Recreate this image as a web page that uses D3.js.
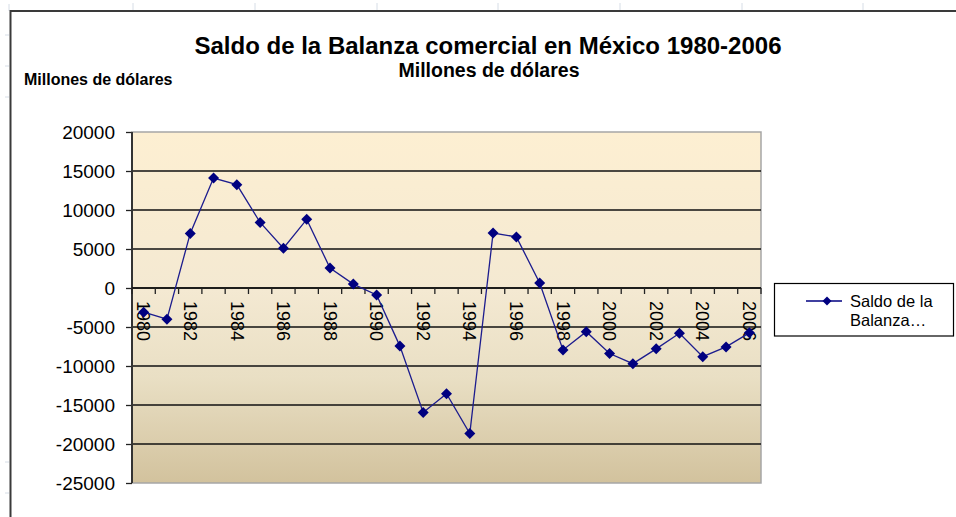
<!DOCTYPE html>
<html>
<head>
<meta charset="utf-8">
<script src="https://cdn.jsdelivr.net/npm/d3@7/dist/d3.min.js"></script>
<style>
  html, body { margin: 0; padding: 0; background: #ffffff; }
  svg { display: block; font-family: "Liberation Sans", Arial, sans-serif; }
</style>
</head>
<body>
<svg id="chart" width="956" height="517"></svg>
<script>
// ---- data ----
const years = [1980,1981,1982,1983,1984,1985,1986,1987,1988,1989,1990,1991,1992,1993,
               1994,1995,1996,1997,1998,1999,2000,2001,2002,2003,2004,2005,2006];
const saldo = [-3100,-4000,7000,14100,13250,8400,5100,8800,2550,500,-900,-7450,-15950,-13550,
               -18650,7050,6550,650,-7950,-5600,-8400,-9700,-7800,-5800,-8800,-7550,-5750];
const yTicks = [20000,15000,10000,5000,0,-5000,-10000,-15000,-20000,-25000];
const xLabels = [1980,1982,1984,1986,1988,1990,1992,1994,1996,1998,2000,2002,2004,2006];
const seriesName = "Saldo de la Balanza comercial";
const titleText = "Saldo de la Balanza comercial en México 1980-2006";
const subtitleText = "Millones de dólares";
const yTitleText = "Millones de dólares";

const svg = d3.select("#chart");
const plot = {left: 132, right: 761, top: 132, bottom: 483};

// faint spreadsheet cell grid marks visible outside the chart frame
const sheetCols = [133,255,377,498,620,742,863];
const sheetRows = [35,66,97,462,493];
svg.selectAll("line.colmark").data(sheetCols).join("line")
  .attr("x1", d => d).attr("x2", d => d).attr("y1", 3).attr("y2", 10)
  .attr("stroke", "#d6dde6").attr("stroke-width", 1);
svg.selectAll("line.rowmark").data(sheetRows).join("line")
  .attr("x1", 5).attr("x2", 9).attr("y1", d => d).attr("y2", d => d)
  .attr("stroke", "#d6dde6").attr("stroke-width", 1);
svg.append("line").attr("x1", 9).attr("x2", 9).attr("y1", 4).attr("y2", 11)
  .attr("stroke", "#d6dde6");

// chart frame (top and left edges visible)
svg.append("path")
  .attr("d", "M10.5,517 L10.5,11 L956,11")
  .attr("fill", "none").attr("stroke", "#3a3a3a").attr("stroke-width", 2);

// gradient background
const defs = svg.append("defs");
const grad = defs.append("linearGradient").attr("id", "bg")
  .attr("x1", 0).attr("y1", 0).attr("x2", 0).attr("y2", 1);
grad.append("stop").attr("offset", "0%").attr("stop-color", "#fdefd2");
grad.append("stop").attr("offset", "45%").attr("stop-color", "#f4e9d2");
grad.append("stop").attr("offset", "70%").attr("stop-color", "#e9dfc4");
grad.append("stop").attr("offset", "100%").attr("stop-color", "#d2c29d");

const x = d3.scaleBand().domain(years).range([plot.left, plot.right]).paddingInner(0).paddingOuter(0);
const y = d3.scaleLinear().domain([-25000, 20000]).range([plot.bottom, plot.top]);
const cx = d => x(d) + x.bandwidth() / 2;

svg.append("rect")
  .attr("x", plot.left).attr("y", plot.top)
  .attr("width", plot.right - plot.left).attr("height", plot.bottom - plot.top)
  .attr("fill", "url(#bg)")
  .attr("stroke", "#a6a6a6").attr("stroke-width", 1.5);

// horizontal gridlines
svg.selectAll("line.grid").data(yTicks.filter(v => v !== 20000 && v !== -25000)).join("line")
  .attr("class", "grid")
  .attr("x1", plot.left).attr("x2", plot.right)
  .attr("y1", d => y(d)).attr("y2", d => y(d))
  .attr("stroke", "#111111").attr("stroke-width", 1.4);

// y axis
const yAxis = d3.axisLeft(y).tickValues(yTicks).tickSize(6).tickPadding(11)
  .tickFormat(d => String(d));
const gy = svg.append("g").attr("transform", `translate(${plot.left},0)`).call(yAxis);
gy.select(".domain").remove();
gy.selectAll(".tick line").attr("stroke", "#222").attr("stroke-width", 1.3);
gy.selectAll(".tick text").attr("font-size", 19).attr("fill", "#000")
  .attr("font-family", "'Liberation Sans', Arial, sans-serif");
svg.append("line").attr("x1", plot.left).attr("x2", plot.left)
  .attr("y1", plot.top).attr("y2", plot.bottom)
  .attr("stroke", "#333").attr("stroke-width", 2);

// x axis at zero
const y0 = y(0);
svg.append("line").attr("x1", plot.left).attr("x2", plot.right)
  .attr("y1", y0).attr("y2", y0).attr("stroke", "#111").attr("stroke-width", 1.6);
const boundaries = years.map(d => x(d)).concat([x(years[years.length - 1]) + x.bandwidth()]);
svg.selectAll("line.xtick").data(boundaries).join("line")
  .attr("x1", d => d).attr("x2", d => d)
  .attr("y1", y0).attr("y2", y0 + 6)
  .attr("stroke", "#222").attr("stroke-width", 1.3);
svg.selectAll("text.xlab").data(xLabels).join("text")
  .attr("class", "xlab")
  .attr("transform", d => `translate(${cx(d)},${y0 + 13}) rotate(90)`)
  .attr("text-anchor", "start")
  .attr("dy", "0.35em")
  .attr("font-size", 18)
  .attr("fill", "#000")
  .text(d => d);

// series line
const line = d3.line().x((d, i) => cx(years[i])).y(d => y(d));
svg.append("path").datum(saldo)
  .attr("d", line).attr("fill", "none")
  .attr("stroke", "#1c1c8e").attr("stroke-width", 1.3);
const diamond = (px, py, r) => `M${px},${py - r}L${px + r},${py}L${px},${py + r}L${px - r},${py}Z`;
svg.selectAll("path.mk").data(saldo).join("path")
  .attr("class", "mk")
  .attr("d", (d, i) => diamond(cx(years[i]), y(d), 5.5))
  .attr("fill", "#000080");

// titles
svg.append("text").attr("x", 488).attr("y", 54).attr("text-anchor", "middle")
  .attr("font-size", 24).attr("font-weight", "bold").attr("fill", "#000").text(titleText);
svg.append("text").attr("x", 489).attr("y", 77).attr("text-anchor", "middle")
  .attr("font-size", 19.5).attr("font-weight", "bold").attr("fill", "#000").text(subtitleText);
svg.append("text").attr("x", 24).attr("y", 85).attr("text-anchor", "start")
  .attr("font-size", 16).attr("font-weight", "bold").attr("fill", "#000").text(yTitleText);

// legend
const lg = svg.append("g");
lg.append("rect").attr("x", 774.5).attr("y", 283.5).attr("width", 179).attr("height", 52.5)
  .attr("fill", "#fff").attr("stroke", "#000").attr("stroke-width", 1.2);
lg.append("line").attr("x1", 806).attr("x2", 842).attr("y1", 301).attr("y2", 301)
  .attr("stroke", "#000080").attr("stroke-width", 1.5);
lg.append("path").attr("d", diamond(827, 301, 4.5)).attr("fill", "#000080");
const legendLines = ["Saldo de la", "Balanza…"];
lg.selectAll("text").data(legendLines).join("text")
  .attr("x", 850).attr("y", (d, i) => 307 + i * 18.5)
  .attr("font-size", 16.5).attr("fill", "#000")
  .text(d => d);
lg.append("title").text(seriesName);
</script>
</body>
</html>
